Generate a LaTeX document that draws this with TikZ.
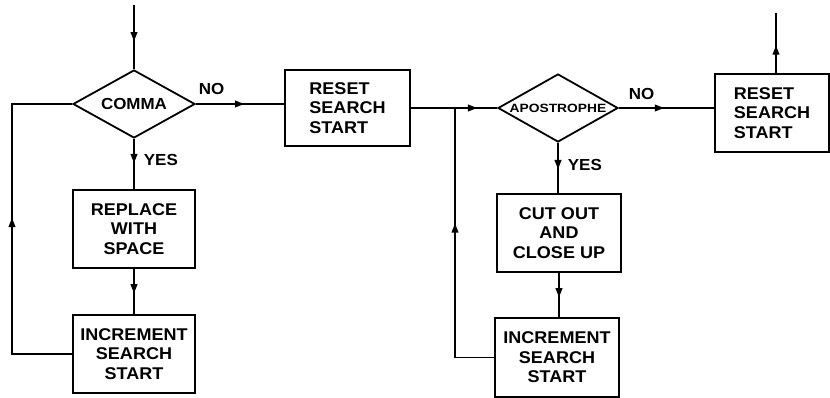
\documentclass[tikz,border=0pt]{standalone}
\usepackage{fontspec}
\setmainfont{Liberation Sans}
\newfontfamily\hand[FakeStretch=1.06]{Liberation Sans}
\newfontfamily\handsmall[FakeStretch=1.15]{Liberation Sans}
\usetikzlibrary{shapes.geometric,arrows.meta,decorations.markings,calc}
\begin{document}
\begin{tikzpicture}[x=1pt,y=-1pt,
  line width=1.8pt,
  boxnode/.style={draw, rectangle, inner sep=0pt, align=center, font=\hand\bfseries\fontsize{17}{19.5}\selectfont},
  decnode/.style={draw, diamond, inner sep=0pt, minimum width=122pt, minimum height=68pt},
  lbl/.style={font=\hand\bfseries\fontsize{16}{19}\selectfont, inner sep=0pt},
  lblsmall/.style={font=\handsmall\bfseries\fontsize{12}{12}\selectfont, inner sep=0pt},
  flow/.style={postaction={decorate}, decoration={markings, mark=at position #1 with {\fill (4pt,0pt) -- (-5pt,3.6pt) -- (-5pt,-3.6pt) -- cycle;}}},
]
\useasboundingbox (0,0) rectangle (830,398);
% nodes
\node[decnode, label={[lbl]center:COMMA}] (comma) at (134,104) {};
\node[boxnode, minimum width=125pt, minimum height=76pt, align=left] (reset1) at (347.5,108) {RESET\\SEARCH\\START};
\node[boxnode, minimum width=122pt, minimum height=78pt] (replace) at (134,229) {REPLACE\\WITH\\SPACE};
\node[boxnode, minimum width=122pt, minimum height=78pt] (inc1) at (134,354) {INCREMENT\\SEARCH\\START};
\node[decnode, minimum width=120pt, label={[lblsmall]center:APOSTROPHE}] (apos) at (558,108) {};
\node[boxnode, minimum width=124pt, minimum height=78pt] (cut) at (559,233) {CUT OUT\\AND\\CLOSE UP};
\node[boxnode, minimum width=124pt, minimum height=79pt] (inc2) at (557,357.5) {INCREMENT\\SEARCH\\START};
\node[boxnode, minimum width=114pt, minimum height=78pt, align=left] (reset2) at (772,113) {RESET\\SEARCH\\START};
% coordinates
\coordinate (top1) at (134,5);
\coordinate (top2) at (776,13);
\coordinate (j) at (455,108);
\coordinate (l1) at (12,0);
% connectors
\draw[flow=0.5] (top1) -- (comma.north);
\draw[flow=0.5] (comma.east) -- (comma.east -| reset1.west);
\draw[flow=0.4] (comma.south) -- (replace.north);
\draw[flow=0.45] (replace.south) -- (inc1.north);
\draw[flow=192pt] (inc1.west) -- (l1 |- inc1.west) -- (l1 |- comma.west) -- (comma.west);
\draw[flow=0.72] (reset1.east |- apos.west) -- (apos.west);
\draw[flow=169pt] (inc2.west) -- (j |- inc2.west) -- (j);
\draw[flow=0.43] (apos.east) -- (apos.east -| reset2.west);
\draw[flow=0.44] (apos.south) -- (apos.south |- cut.north);
\draw[flow=0.46] (cut.south) -- (cut.south |- inc2.north);
\draw[flow=0.39] (reset2.north -| top2) -- (top2);
% labels
\node[lbl, anchor=base west, xshift=2pt, yshift=9pt] (no1) at (comma.east) {NO};
\node[lbl, anchor=base west, xshift=9pt, yshift=-27pt] (yes1) at (comma.south) {YES};
\node[lbl, anchor=base west, xshift=9pt, yshift=8pt] (no2) at (apos.east) {NO};
\node[lbl, anchor=base west, xshift=9pt, yshift=-28pt] (yes2) at (apos.south) {YES};
\end{tikzpicture}
\end{document}
